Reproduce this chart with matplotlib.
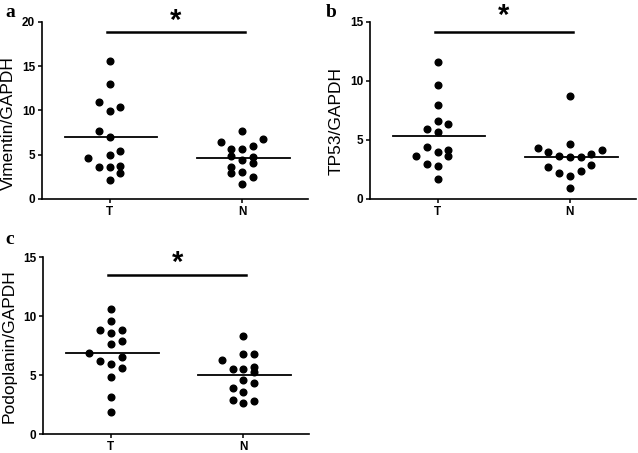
import matplotlib
matplotlib.use("Agg")
import matplotlib.pyplot as plt
import numpy as np

plt.rcParams['font.family'] = ['Liberation Sans', 'DejaVu Sans']

groups = ['T', 'N']

# panel a - Vimentin
vim_T = [15.6, 12.97, 10.9, 9.89, 10.34, 7.71, 6.96, 4.62, 4.96, 5.41, 3.65, 3.65, 3.76, 2.9, 2.14]
vim_T_col = [0, 0, -1, 0, 1, -1, 0, -2, 0, 1, -1, 0, 1, 1, 0]
vim_N = [7.63, 6.39, 6.77, 5.64, 5.64, 6.02, 4.89, 4.36, 4.78, 4.02, 3.57, 3.0, 2.9, 2.45, 1.73]
vim_N_col = [0, -2, 2, -1, 0, 1, -1, 0, 1, 1, -1, 0, -1, 1, 0]
vim_med = [7.0, 4.6]

# panel b - TP53
tp53_T = [11.62, 9.64, 7.95, 6.6, 6.35, 5.95, 5.64, 4.37, 3.95, 4.15, 3.67, 3.67, 2.96, 2.76, 1.69]
tp53_T_col = [0, 0, 0, 0, 1, -1, 0, -1, 0, 1, -2, 1, -1, 0, 0]
tp53_N = [8.74, 4.34, 3.98, 4.65, 3.64, 3.53, 3.53, 3.78, 4.15, 2.73, 2.17, 1.95, 2.37, 2.85, 0.96]
tp53_N_col = [0, -3, -2, 0, -1, 0, 1, 2, 3, -2, -1, 0, 1, 2, 0]
tp53_med = [5.36, 3.55]

# panel c - Podoplanin
pod_T = [10.62, 9.6, 8.84, 8.61, 8.84, 7.62, 7.93, 6.86, 6.21, 5.93, 6.52, 5.59, 4.88, 3.19, 1.92]
pod_T_col = [0, 0, -1, 0, 1, 0, 1, -2, -1, 0, 1, 1, 0, 0, 0]
pod_N = [8.33, 6.3, 6.81, 6.81, 5.56, 5.56, 5.73, 5.31, 4.57, 4.32, 3.9, 3.61, 2.91, 2.63, 2.82]
pod_N_col = [0, -2, 0, 1, -1, 0, 1, 1, 0, 1, -1, 0, -1, 0, 1]
pod_med = [6.92, 5.03]

panels = [
    ('a', 'Vimentin/GAPDH', vim_T, vim_T_col, vim_N, vim_N_col, vim_med, 20, 18.87, 20.1),
    ('b', 'TP53/GAPDH', tp53_T, tp53_T_col, tp53_N, tp53_N_col, tp53_med, 15, 14.15, 15.5),
    ('c', 'Podoplanin/GAPDH', pod_T, pod_T_col, pod_N, pod_N_col, pod_med, 15, 13.5, 14.5),
]
rects = [[0.066, 0.561, 0.417, 0.391],
         [0.58, 0.561, 0.417, 0.391],
         [0.068, 0.041, 0.417, 0.391]]
letter_pos = [(0.008, 0.992), (0.51, 0.992), (0.008, 0.49)]
label_y = [0.43, 0.44, 0.50]

step = 0.081
fig = plt.figure(figsize=(6.38, 4.53), dpi=100)

for (letter, ylabel, tv, tc, nv, nc, med, ymax, bar_y, star_y), rect, lp, ly in zip(panels, rects, letter_pos, label_y):
    ax = fig.add_axes(rect)
    ax.plot(1 + np.array(tc) * step, tv, 'o', color='black', markersize=4.8, linestyle='none')
    ax.plot(2 + np.array(nc) * step, nv, 'o', color='black', markersize=4.8, linestyle='none')
    for i, m in enumerate(med):
        ax.plot([i + 1 - 0.34, i + 1 + 0.36], [m, m], color='black', lw=1.3)
    ax.plot([0.98, 2.02], [bar_y, bar_y], color='black', lw=1.8, clip_on=False)
    ax.text(1.5, star_y, '*', ha='center', va='center', fontsize=21, fontweight='bold', clip_on=False)
    ax.set_xlim(0.49, 2.5)
    ax.set_ylim(0, ymax)
    ax.set_yticks(np.arange(0, ymax + 1, 5))
    ax.set_xticks([1, 2])
    ax.set_xticklabels(groups)
    ax.spines['top'].set_visible(False)
    ax.spines['right'].set_visible(False)
    ax.spines['left'].set_linewidth(1.2)
    ax.spines['bottom'].set_linewidth(1.2)
    ax.tick_params(axis='both', direction='out', length=3, width=1.1, labelsize=8.5, pad=2)
    for t in ax.get_xticklabels() + ax.get_yticklabels():
        t.set_fontweight('bold')
    ax.set_ylabel(ylabel, fontsize=12.5)
    ax.yaxis.set_label_coords(-0.10, ly)
    fig.text(lp[0], lp[1], letter, fontsize=14, fontweight='bold',
             family=['Liberation Serif', 'DejaVu Serif'], ha='left', va='top')

fig.savefig('out.png', dpi=100)
